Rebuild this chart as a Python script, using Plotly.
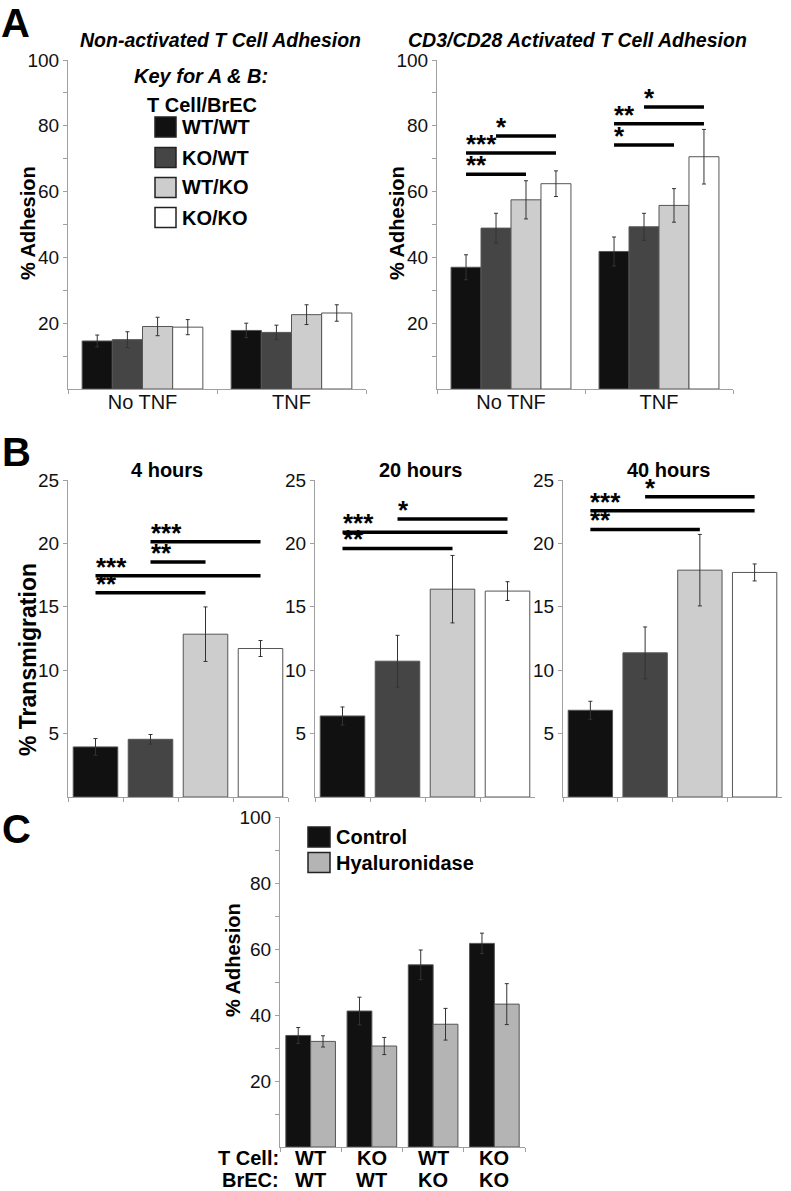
import plotly.graph_objects as go

W, H = 791, 1191
FONT = "Liberation Sans, Arial, Helvetica, sans-serif"

# ---------------- data ----------------
genotypes = ["WT/WT", "KO/WT", "WT/KO", "KO/KO"]
geno_colors = ["#111111", "#454545", "#cdcdcd", "#ffffff"]

a_conditions = ["No TNF", "TNF"]
# Panel A left: non-activated, per genotype [No TNF, TNF]
a1_means = [[14.6, 17.8], [15.0, 17.2], [19.0, 22.6], [18.8, 23.1]]
a1_errs = [[1.8, 2.2], [2.4, 2.2], [2.8, 3.0], [2.3, 2.5]]
# Panel A right: CD3/CD28 activated
a2_means = [[37.0, 41.8], [48.9, 49.3], [57.5, 55.8], [62.4, 70.6]]
a2_errs = [[3.8, 4.4], [4.5, 4.1], [5.8, 5.1], [3.9, 8.3]]
# significance: (condition, from genotype, to genotype, height, stars)
a2_sig = [(0, 1, 3, 76.9, "*"), (0, 0, 3, 71.7, "***"), (0, 0, 2, 65.3, "**"),
          (1, 1, 3, 85.7, "*"), (1, 0, 3, 80.6, "**"), (1, 0, 2, 74.2, "*")]

# Panel B: transmigration
b_times = ["4 hours", "20 hours", "40 hours"]
b_means = [[3.95, 4.55, 12.84, 11.71], [6.39, 10.71, 16.39, 16.24], [6.84, 11.37, 17.89, 17.71]]
b_errs = [[0.66, 0.38, 2.15, 0.63], [0.71, 2.04, 2.66, 0.74], [0.71, 2.04, 2.82, 0.67]]
b_sig = [[(1, 3, 20.13, "***"), (1, 2, 18.53, "**"), (0, 3, 17.45, "***"), (0, 2, 16.1, "**")],
         [(1, 3, 21.92, "*"), (0, 3, 20.87, "***"), (0, 2, 19.6, "**")],
         [(1, 3, 23.68, "*"), (0, 3, 22.58, "***"), (0, 2, 21.1, "**")]]

# Panel C: hyaluronidase
c_tcell = ["WT", "KO", "WT", "KO"]
c_brec = ["WT", "WT", "KO", "KO"]
c_treatments = ["Control", "Hyaluronidase"]
c_colors = ["#111111", "#b4b4b4"]
c_control = [33.8, 41.2, 55.2, 61.7]
c_control_err = [2.4, 4.2, 4.5, 3.1]
c_hyal = [32.0, 30.6, 37.2, 43.3]
c_hyal_err = [1.7, 2.6, 4.8, 6.2]

# ---------------- layout helpers ----------------
BARGAP = 0.19


def px(x):
    return x / W


def py(y):
    return 1 - y / H


def offset(i, n):
    w = (1 - BARGAP) / n
    return (i - (n - 1) / 2) * w


panels = [  # (x-range px, y-range px (top,bottom))
    ([68, 366], [60, 389]),
    ([437, 733], [60, 389]),
    ([68, 288], [480, 797]),
    ([315, 535], [480, 797]),
    ([563, 782], [480, 797]),
    ([280, 525], [817, 1147]),
]

fig = go.Figure()
ERR = dict(type="data", thickness=1, width=2, color="#333333")
LINE = dict(color="#555555", width=1)

# Panel A
for k, (means, errs) in enumerate([(a1_means, a1_errs), (a2_means, a2_errs)]):
    ax = "" if k == 0 else str(k + 1)
    for g, name in enumerate(genotypes):
        fig.add_trace(go.Bar(
            x=a_conditions, y=means[g], name=name,
            marker=dict(color=geno_colors[g], line=LINE),
            error_y=dict(array=errs[g], **ERR),
            xaxis="x" + ax, yaxis="y" + ax, showlegend=False))

# Panel B
for t in range(3):
    ax = str(t + 3)
    fig.add_trace(go.Bar(
        x=genotypes, y=b_means[t],
        marker=dict(color=geno_colors, line=LINE),
        error_y=dict(array=b_errs[t], **ERR),
        xaxis="x" + ax, yaxis="y" + ax, showlegend=False))

# Panel C
c_cats = [f"{a}/{b}" for a, b in zip(c_tcell, c_brec)]
for j, (vals, errs) in enumerate([(c_control, c_control_err), (c_hyal, c_hyal_err)]):
    fig.add_trace(go.Bar(
        x=c_cats, y=vals, name=c_treatments[j],
        marker=dict(color=c_colors[j], line=LINE),
        error_y=dict(array=errs, **ERR),
        xaxis="x6", yaxis="y6", showlegend=False))

layout = dict(
    template="none",
    width=W, height=H, margin=dict(l=0, r=0, t=0, b=0, pad=0),
    paper_bgcolor="white", plot_bgcolor="white",
    barmode="group", bargap=BARGAP, bargroupgap=0,
    font=dict(family=FONT, size=19, color="#111111"),
    showlegend=False,
)

for n, ((x0, x1), (yt, yb)) in enumerate(panels, start=1):
    s = "" if n == 1 else str(n)
    xa = dict(domain=[px(x0), px(x1)], anchor="y" + s, type="category", automargin=False,
              showline=True, linecolor="#a0a0a0", linewidth=1,
              ticks="outside", tickson="boundaries", ticklen=4, tickcolor="#a0a0a0",
              showgrid=False, zeroline=False, ticklabelstandoff=-5,
              showticklabels=(n <= 2), tickfont=dict(size=20, color="#111111"))
    if n in (1, 2, 6):
        yr = [0, 100]
        tv = list(range(10, 101, 10))
        tt = [str(v) if v % 20 == 0 else "" for v in tv]
    else:
        yr = [0, 25]
        tv = [5, 10, 15, 20, 25]
        tt = [str(v) for v in tv]
    ya = dict(domain=[py(yb), py(yt)], anchor="x" + s, range=yr, automargin=False,
              tickvals=tv, ticktext=tt,
              showline=True, linecolor="#a0a0a0", linewidth=1,
              ticks="outside", ticklen=4, tickcolor="#a0a0a0",
              showgrid=False, zeroline=False, tickfont=dict(size=19, color="#111111"))
    layout["xaxis" + s] = xa
    layout["yaxis" + s] = ya

fig.update_layout(**layout)

shapes = []
annotations = []
STAR_FONT = dict(family=FONT, size=26, color="black")


def add_sig(xref, yref, xs, xe, yv, label):
    shapes.append(dict(type="line", xref=xref, yref=yref, x0=xs, x1=xe, y0=yv, y1=yv,
                       line=dict(color="black", width=3.5)))
    annotations.append(dict(xref=xref, yref=yref, x=xs, y=yv, text="<b>" + label + "</b>",
                            showarrow=False, xanchor="left", yanchor="bottom",
                            yshift=-8, xshift=-2, font=STAR_FONT))


for c, i0, i1, yv, lab in a2_sig:
    add_sig("x2", "y2", c + offset(i0, 4), c + offset(i1, 4), yv, lab)

for t in range(3):
    ax = str(t + 3)
    for i0, i1, yv, lab in b_sig[t]:
        add_sig("x" + ax, "y" + ax, i0, i1, yv, lab)


def text(x, y, s, size=20, xanchor="center", yanchor="middle", angle=0, bold=True, italic=False, pad=1):
    if bold:
        s = "<b>" + s + "</b>"
    if italic:
        s = "<i>" + s + "</i>"
    annotations.append(dict(xref="paper", yref="paper", x=px(x), y=py(y), text=s,
                            showarrow=False, xanchor=xanchor, yanchor=yanchor, borderpad=pad,
                            textangle=angle, font=dict(family=FONT, size=size, color="black")))


# Panel letters
text(0, 0, "A", size=40, xanchor="left", yanchor="top", pad=0)
text(0, 451.5, "B", size=40, xanchor="left")
text(0, 829, "C", size=40, xanchor="left")

# Panel A titles
text(220, 40, "Non-activated T Cell Adhesion", size=19.5, italic=True)
text(577, 40, "CD3/CD28 Activated T Cell Adhesion", size=19.5, italic=True)
text(28, 223, "% Adhesion", angle=-90)
text(397, 223, "% Adhesion", angle=-90)

# Key for A & B
text(201, 76, "Key for A & B:", italic=True)
text(202, 105, "T Cell/BrEC")
key_y = [127, 157.5, 187.5, 217.5]
for g, name in enumerate(genotypes):
    shapes.append(dict(type="rect", xref="paper", yref="paper",
                       x0=px(155), x1=px(176), y0=py(key_y[g] + 10), y1=py(key_y[g] - 10),
                       fillcolor=geno_colors[g], line=dict(color="#222222", width=1.5)))
    text(180, key_y[g], name, xanchor="left")

# Panel B titles
b_title_x = [167, 420, 668]
for t in range(3):
    text(b_title_x[t], 470, b_times[t])
text(28, 660, "% Transmigration", size=23, angle=-90)

# Panel C
text(233, 960, "% Adhesion", angle=-90)
c_key_y = [837, 862.5]
for j, name in enumerate(c_treatments):
    shapes.append(dict(type="rect", xref="paper", yref="paper",
                       x0=px(308), x1=px(330), y0=py(c_key_y[j] + 10), y1=py(c_key_y[j] - 10),
                       fillcolor=c_colors[j], line=dict(color="#222222", width=1.5)))
    text(334, c_key_y[j], name, xanchor="left")
ROW1, ROW2 = 1157.5, 1179.8
text(280, ROW1, "T Cell:", xanchor="right", pad=0)
text(280, ROW2, "BrEC:", xanchor="right", pad=0)
for i in range(4):
    for row, lab in ((ROW1, c_tcell[i]), (ROW2, c_brec[i])):
        annotations.append(dict(xref="x6", yref="paper", x=i, y=py(row), text="<b>" + lab + "</b>",
                                showarrow=False, xanchor="center", yanchor="middle", borderpad=0,
                                font=dict(family=FONT, size=20, color="black")))

fig.update_layout(shapes=shapes, annotations=annotations)
fig.write_html("out.html", config={"displayModeBar": False},
               post_script="document.body.style.margin='0';")
